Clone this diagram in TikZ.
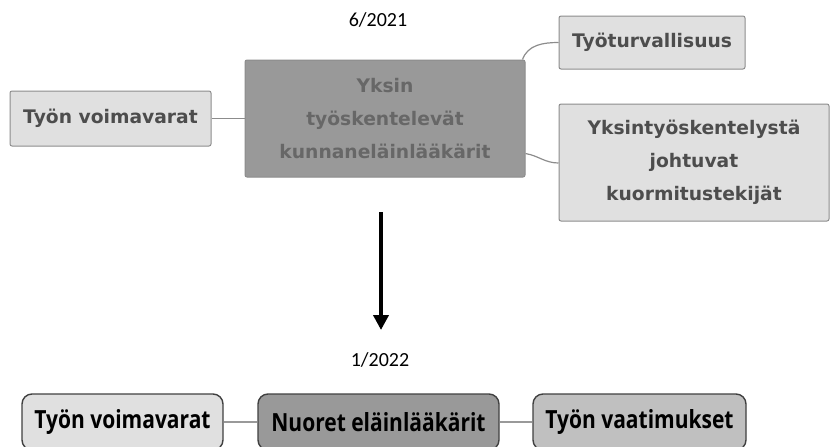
\documentclass[tikz,border=0pt]{standalone}
\usepackage{fontspec}
\setmainfont{Carlito}
\newfontfamily\mapfont{DejaVu Sans}
\newfontfamily\narrowfont[FakeStretch=0.84]{Open Sans}
\usetikzlibrary{arrows.meta}

\definecolor{lightfill}{HTML}{E0E0E0}
\definecolor{darkfill}{HTML}{999999}
\definecolor{midfill}{HTML}{C0C0C0}
\definecolor{edgegray}{HTML}{8C8C8C}
\definecolor{sidetext}{HTML}{4D4D4D}
\definecolor{maintext}{HTML}{676767}

\begin{document}
\begin{tikzpicture}[x=1pt, y=-1pt,
	sidebox/.style = {shape=rectangle, rounded corners=2pt, draw=edgegray,
		line width=1pt, fill=lightfill, align=center, inner sep=0pt,
		text=sidetext, font=\mapfont\bfseries\fontsize{18.7}{33}\selectfont},
	mainbox/.style = {sidebox, fill=darkfill, text=maintext},
	roundbox/.style = {shape=rectangle, rounded corners=10pt, draw=black!75,
		line width=1.4pt, inner sep=0pt, minimum height=56pt,
		font=\narrowfont\bfseries\fontsize{25}{25}\selectfont},
	datelabel/.style = {font=\fontsize{20}{20}\selectfont, inner sep=0pt},
	link/.style = {draw=edgegray, line width=1.2pt}]

	\useasboundingbox (0,0) rectangle (830,447);

	% 6/2021
	\node[datelabel] (date1) at (378,20) {6/2021};
	\node[mainbox, minimum width=280pt, minimum height=117pt] (yksin) at (385,118.5)
		{Yksin\\työskentelevät\\kunnaneläinlääkärit};
	\node[sidebox, minimum width=201pt, minimum height=55pt] (voima1) at (110.5,118.5)
		{Työn voimavarat};
	\node[sidebox, minimum width=186pt, minimum height=53pt] (turva) at (652,42.5)
		{Työturvallisuus};
	\node[sidebox, minimum width=270pt, minimum height=117pt] (kuorma) at (694,162.5)
		{Yksintyöskentelystä\\johtuvat\\kuormitustekijät};

	\draw[link] (voima1) -- (yksin);
	\draw[link] ([xshift=-3pt]yksin.north east) to[out=70, in=180] (turva.west);
	\draw[link] ([yshift=-35pt]yksin.east) to[out=-10, in=180] ([yshift=-0.5pt]kuorma.west);

	% arrow between the two maps
	\coordinate (from) at (381,212);
	\coordinate (to) at (381,330);
	\draw[line width=4pt, -{Triangle[width=15pt, length=15pt]}] (from) -- (to);

	% 1/2022
	\node[datelabel] (date2) at (380,360) {1/2022};
	\node[roundbox, fill=lightfill, minimum width=201pt] (voima2) at (122.5,422) {Työn voimavarat};
	\node[roundbox, fill=darkfill, minimum width=241pt] (nuoret) at (378.5,422) {Nuoret eläinlääkärit};
	\node[roundbox, fill=midfill, minimum width=213pt] (vaatim) at (639.5,422) {Työn vaatimukset};

	\draw[link, draw=darkfill, line width=2pt] (voima2) -- (nuoret);
	\draw[link, draw=darkfill, line width=2pt] (nuoret) -- (vaatim);
\end{tikzpicture}
\end{document}
